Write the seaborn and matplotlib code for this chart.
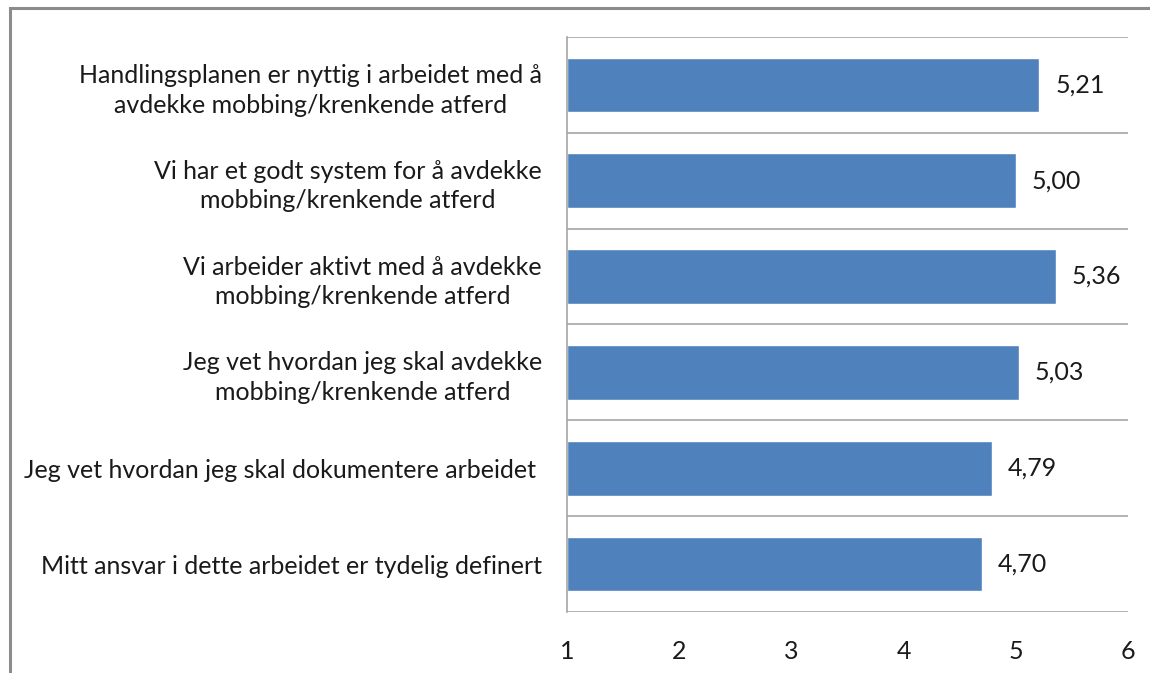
import matplotlib
matplotlib.use('Agg')
import matplotlib.pyplot as plt
import seaborn as sns
import pandas as pd
from matplotlib.patches import Rectangle

# Data
statements = [
    'Handlingsplanen er nyttig i arbeidet med å\navdekke mobbing/krenkende atferd',
    'Vi har et godt system for å avdekke\nmobbing/krenkende atferd',
    'Vi arbeider aktivt med å avdekke\nmobbing/krenkende atferd',
    'Jeg vet hvordan jeg skal avdekke\nmobbing/krenkende atferd',
    'Jeg vet hvordan jeg skal dokumentere arbeidet ',
    'Mitt ansvar i dette arbeidet er tydelig definert',
]
scores = [5.21, 5.00, 5.36, 5.03, 4.79, 4.70]
x_ticks = [1, 2, 3, 4, 5, 6]

df = pd.DataFrame({'statement': statements, 'score': scores})

sns.set_style('white')
plt.rcParams['font.family'] = ['Lato', 'DejaVu Sans']

fig = plt.figure(figsize=(11.5, 6.73), dpi=100)
ax = fig.add_axes([0.493, 0.0906, 0.488, 0.8545])

# bars start at 1 (axis minimum), so plot the offset from 1 with left=1
sns.barplot(data=df, y='statement', x='score', orient='h', color='#4F81BD',
            width=0.57, saturation=1, ax=ax)
for bar in ax.patches:
    w = bar.get_width()
    bar.set_x(1)
    bar.set_width(w - 1)

ax.set_xlim(1, 6)
ax.set_ylim(len(statements) - 0.5, -0.5)
ax.set_xticks(x_ticks)
ax.set_xticklabels([str(t) for t in x_ticks])
ax.set_xlabel('')
ax.set_ylabel('')

# horizontal gridlines at category boundaries
for b in range(len(statements) + 1):
    ax.axhline(b - 0.5, color='#A6A6A6', lw=1.2, zorder=0)

for s in ['top', 'right', 'bottom']:
    ax.spines[s].set_visible(False)
ax.spines['left'].set_color('#A6A6A6')
ax.spines['left'].set_linewidth(1.2)

ax.tick_params(axis='x', length=0, pad=20, labelsize=18, colors='#1a1a1a')
ax.tick_params(axis='y', length=0, pad=18, labelsize=18, colors='#1a1a1a')
for t in ax.get_yticklabels():
    t.set_multialignment('center')
    t.set_linespacing(1.35)

for i, v in enumerate(scores):
    ax.text(v + 0.14, i, f'{v:.2f}'.replace('.', ','), va='center', ha='left',
            fontsize=18, color='#1a1a1a')

# outer chart frame
fig.patches.append(Rectangle((10 / 1150, -0.01), 1.05, 1 - 8 / 673 + 0.01,
                             transform=fig.transFigure, fill=False,
                             edgecolor='#8C8C8C', lw=2.2, clip_on=False))

fig.savefig('out.png', dpi=100)
